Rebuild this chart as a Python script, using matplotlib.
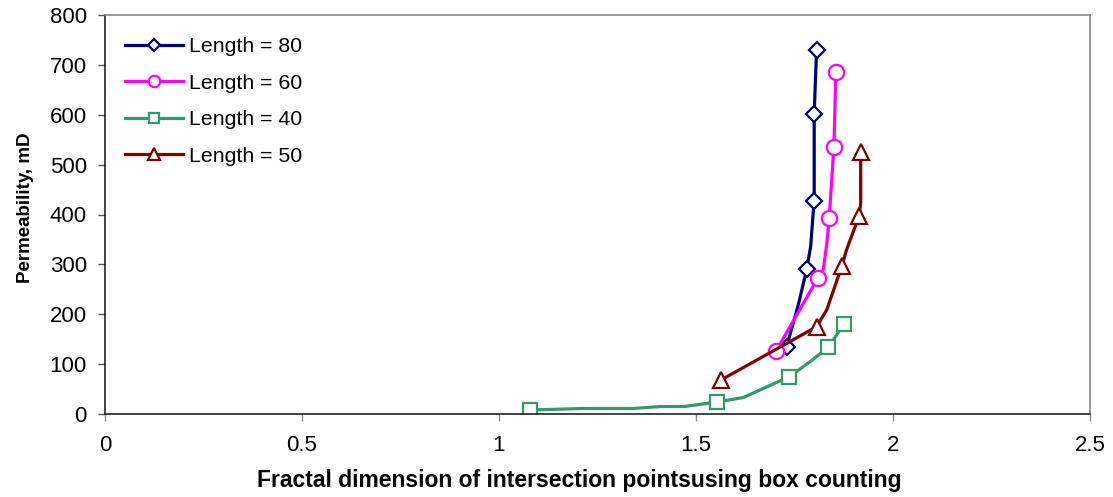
import matplotlib.pyplot as plt
import numpy as np

plt.rcParams["font.family"] = ["Liberation Sans", "DejaVu Sans"]

# Length = 80
x80 = [1.730, 1.760, 1.781, 1.791, 1.798, 1.800, 1.800, 1.805, 1.806]
y80 = [135, 220, 290, 336, 409, 428, 602, 710, 729]
m80 = [0, 2, 5, 6, 8]

# Length = 60
x60 = [1.703, 1.809, 1.823, 1.832, 1.838, 1.850, 1.855]
y60 = [126, 272, 289, 342, 392, 535, 686]
m60 = [0, 1, 4, 5, 6]

# Length = 40
x40 = [1.079, 1.21, 1.34, 1.41, 1.47, 1.553, 1.62, 1.737, 1.79, 1.836, 1.876]
y40 = [8, 11, 11, 15, 15, 24, 33, 75, 105, 134, 181]
m40 = [0, 5, 7, 9, 10]

# Length = 50
x50 = [1.563, 1.806, 1.832, 1.870, 1.882, 1.914, 1.918, 1.918]
y50 = [68, 175, 209, 296, 329, 397, 423, 526]
m50 = [0, 1, 3, 5, 7]

series = [
    ("Length = 80", x80, y80, m80, "#000080", "D", 8),
    ("Length = 60", x60, y60, m60, "#FF00FF", "o", 11),
    ("Length = 40", x40, y40, m40, "#339966", "s", 10),
    ("Length = 50", x50, y50, m50, "#800000", "^", 11),
]

fig = plt.figure(figsize=(11.13, 4.97), dpi=100)
ax = fig.add_axes([105 / 1113, 1 - 414 / 497, 985 / 1113, 399 / 497])

for label, xs, ys, mk, col, marker, ms in series:
    ax.plot(xs, ys, color=col, lw=2.3, marker=marker, markevery=mk, ms=ms,
            mfc="white", mec=col, mew=1.6, label=label)

ax.set_xlim(0, 2.5)
ax.set_ylim(0, 800)
ax.set_xticks(np.arange(0, 2.51, 0.5))
ax.set_xticklabels(["0", "0.5", "1", "1.5", "2", "2.5"])
ax.set_yticks(np.arange(0, 801, 100))

for s in ["left", "bottom"]:
    ax.spines[s].set_color("#222222")
    ax.spines[s].set_linewidth(1.2)
for s in ["top", "right"]:
    ax.spines[s].set_color("#888888")
    ax.spines[s].set_linewidth(1.2)

ax.tick_params(axis="x", direction="out", length=5, width=1, color="#888888",
               labelsize=16, pad=10)
ax.tick_params(axis="y", direction="out", length=5, width=1, color="#555555",
               labelsize=16, pad=8)

ax.set_xlabel("Fractal dimension of intersection pointsusing box counting",
              fontsize=16.5, fontweight="bold")
ax.xaxis.set_label_coords(0.482, -0.138)
ax.set_ylabel("Permeability, mD", fontsize=13.5, fontweight="bold")
ax.yaxis.set_label_coords(-0.072, 0.516)

ax.legend(loc="upper left", bbox_to_anchor=(0.012, 0.965), frameon=False,
          fontsize=15.3, handlelength=2.73, handletextpad=0.25, labelspacing=0.82,
          borderaxespad=0, markerscale=0.75)

fig.savefig("out.png", dpi=100)
